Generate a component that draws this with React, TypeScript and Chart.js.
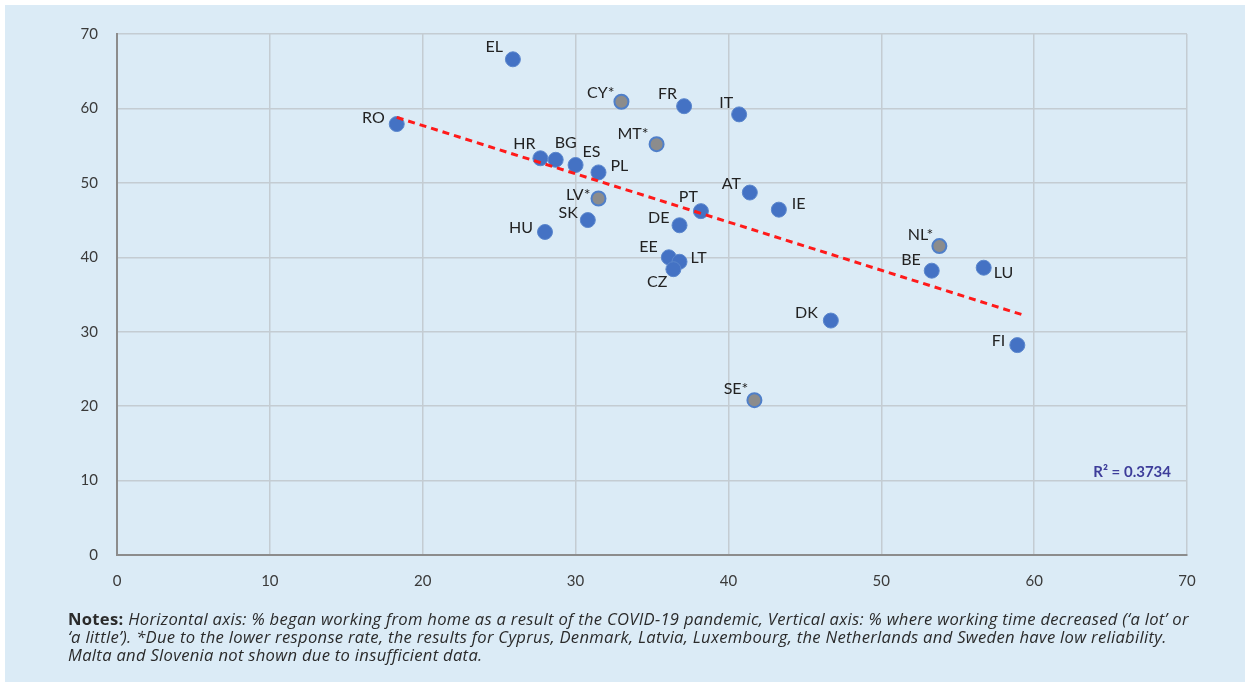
import React, { useEffect, useRef } from "react";
import { Chart, registerables } from "chart.js";

Chart.register(...registerables);

// ---------- data ----------
const countries = ["RO", "EL", "CY*", "FR", "IT", "MT*", "HR", "BG", "ES", "PL", "LV*", "SK", "AT", "IE", "PT", "DE", "HU", "EE", "LT", "CZ", "DK", "SE*", "NL*", "BE", "LU", "FI"];
const wfhShare = [18.3, 25.9, 33.0, 37.1, 40.7, 35.3, 27.7, 28.7, 30.0, 31.5, 31.5, 30.8, 41.4, 43.3, 38.2, 36.8, 28.0, 36.1, 36.8, 36.4, 46.7, 41.7, 53.8, 53.3, 56.7, 58.9];
const timeDecreasedShare = [57.9, 66.6, 60.9, 60.3, 59.2, 55.2, 53.3, 53.1, 52.4, 51.4, 47.9, 45.0, 48.7, 46.4, 46.2, 44.3, 43.4, 40.0, 39.4, 38.4, 31.5, 20.8, 41.5, 38.2, 38.6, 28.2];
const lowReliability = [false, false, true, false, false, true, false, false, false, false, true, false, false, false, false, false, false, false, false, false, false, true, true, false, false, false];
const trendX = [18.3, 59.2];
const trendY = [58.8, 32.3];
const rSquaredText = "R\u00B2 = 0.3734";
const axisMin = 0;
const axisMax = 70;
const axisStep = 10;

// ---------- label placement (style, not data) ----------
const labelPlacement: [number, number, CanvasTextAlign][] = [
  [-12, -6, "right"], [-10, -12, "right"], [-7, -9, "right"], [-7, -12, "right"], [-6, -12, "right"],
  [-8, -10, "right"], [-5, -14, "right"], [10, -17, "center"], [16, -13, "center"], [12, -7, "left"],
  [-8, -4, "right"], [-10, -7, "right"], [-9, -9, "right"], [13, -6, "left"], [-3, -14, "right"],
  [-10, -7, "right"], [-12, -4, "right"], [-11, -10, "right"], [11, -4, "left"], [-6, 13, "right"],
  [-13, -8, "right"], [-6, -11, "right"], [-6, -11, "right"], [-11, -11, "right"], [10, 5, "left"],
  [-12, -4, "right"],
];

const BLUE = "#4472c4";
const GREY = "#8c8c8c";
const LABEL_FONT = "Lato";

const labelPlugin = {
  id: "pointLabels",
  afterDatasetsDraw(chart: any) {
    const meta = chart.getDatasetMeta(1);
    const ctx = chart.ctx;
    ctx.save();
    ctx.font = `16px ${LABEL_FONT}`;
    ctx.fillStyle = "#222222";
    ctx.textBaseline = "middle";
    meta.data.forEach((pt: any, i: number) => {
      const [dx, dy, align] = labelPlacement[i];
      ctx.textAlign = align;
      ctx.fillText(countries[i], pt.x + dx, pt.y + dy);
    });
    // R² annotation
    const ca = chart.chartArea;
    ctx.font = `bold 15px ${LABEL_FONT}`;
    ctx.fillStyle = "#3d3d9a";
    ctx.textAlign = "right";
    ctx.fillText(rSquaredText, ca.right - 16, chart.scales.y.getPixelForValue(11.1));
    ctx.restore();
  },
};

export default function App() {
  const canvasRef = useRef<HTMLCanvasElement | null>(null);

  useEffect(() => {
    if (!canvasRef.current) return;
    const points = wfhShare.map((x, i) => ({ x, y: timeDecreasedShare[i] }));
    const trend = trendX.map((x, i) => ({ x, y: trendY[i] }));
    const chart = new Chart(canvasRef.current, {
      type: "scatter",
      data: {
        datasets: [
          {
            type: "line",
            label: "Trend",
            data: trend,
            borderColor: "#ff1a1a",
            borderWidth: 3,
            borderDash: [7, 5],
            pointRadius: 0,
            fill: false,
            order: 0,
          } as any,
          {
            label: "Countries",
            data: points,
            pointRadius: lowReliability.map((l) => (l ? 7 : 7.5)),
            pointBackgroundColor: lowReliability.map((l) => (l ? GREY : BLUE)),
            pointBorderColor: lowReliability.map((l) => (l ? "#4f7fc9" : "#5a86cc")),
            pointBorderWidth: lowReliability.map((l) => (l ? 2 : 1)),
            order: 1,
          },
        ],
      },
      options: {
        animation: false,
        responsive: false,
        devicePixelRatio: 1,
        layout: { padding: { top: 34, right: 63, left: 0, bottom: 0 } },
        plugins: {
          legend: { display: false },
          tooltip: { enabled: false },
        },
        scales: {
          x: {
            type: "linear",
            min: axisMin,
            max: axisMax,
            ticks: {
              stepSize: axisStep,
              color: "#3a3a3a",
              font: { family: LABEL_FONT, size: 15 },
              padding: 17,
            },
            grid: { color: "#c4ccd2", lineWidth: 1.5, drawTicks: false },
            border: { color: "#8c8c8c", width: 2 },
            afterFit: (s: any) => {
              s.height = 131;
            },
          },
          y: {
            type: "linear",
            min: axisMin,
            max: axisMax,
            ticks: {
              stepSize: axisStep,
              color: "#3a3a3a",
              font: { family: LABEL_FONT, size: 15 },
              padding: 19,
            },
            grid: { color: "#c4ccd2", lineWidth: 1.5, drawTicks: false },
            border: { color: "#8c8c8c", width: 2 },
            afterFit: (s: any) => {
              s.width = 117;
            },
          },
        },
      },
      plugins: [labelPlugin],
    });
    return () => chart.destroy();
  }, []);

  return (
    <div style={{ position: "absolute", left: 0, top: 0, width: 1250, height: 686, background: "#ffffff", overflow: "hidden" }}>
      <div style={{ position: "absolute", left: 5, top: 5, width: 1240, height: 677, background: "#dbebf6" }} />
      <canvas ref={canvasRef} width={1250} height={686} style={{ position: "absolute", left: 0, top: 0, width: 1250, height: 686 }} />
      <div
        style={{
          position: "absolute",
          left: 68,
          top: 610,
          width: 1178,
          fontFamily: "'Open Sans'",
          fontSize: 16.6,
          lineHeight: "18px",
          color: "#2b2b2b",
          whiteSpace: "nowrap",
          letterSpacing: "0.3px",
        }}
      >
        <div>
          <b>Notes:</b>{" "}
          <i>Horizontal axis: % began working from home as a result of the COVID-19 pandemic, Vertical axis: % where working time decreased (‘a lot’ or</i>
        </div>
        <div>
          <i>‘a little’). *Due to the lower response rate, the results for Cyprus, Denmark, Latvia, Luxembourg, the Netherlands and Sweden have low reliability.</i>
        </div>
        <div>
          <i>Malta and Slovenia not shown due to insufficient data.</i>
        </div>
      </div>
    </div>
  );
}
